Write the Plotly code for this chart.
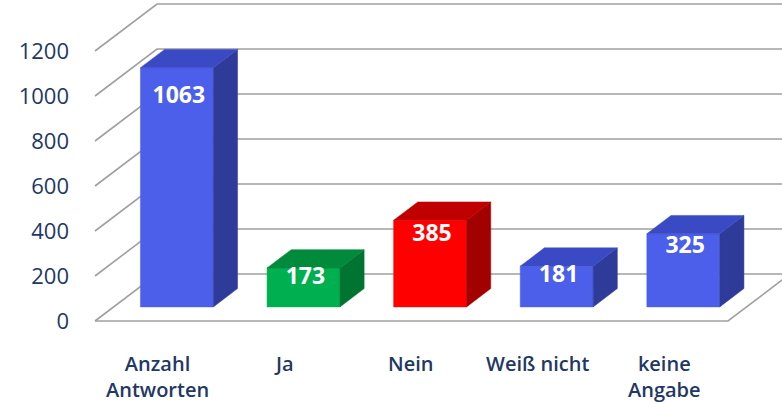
import plotly.graph_objects as go

# ---------------- data ----------------
categories = ["Anzahl\nAntworten", "Ja", "Nein", "Weiß nicht", "keine\nAngabe"]
values = [1063, 173, 385, 181, 325]
y_ticks = [0, 200, 400, 600, 800, 1000, 1200]

# ---------------- styles ----------------
front_colors = ["#4B5FEA", "#00B050", "#FF0000", "#4B5FEA", "#4B5FEA"]
top_colors = ["#3A4AC4", "#008A3C", "#C00000", "#3A4AC4", "#3A4AC4"]
side_colors = ["#2F3B98", "#007532", "#A30000", "#2F3B98", "#2F3B98"]
TEXT_COLOR = "#1F3864"
GRID_COLOR = "#A0A0A0"
FONT = "Open Sans"

# ---------------- layout geometry (pixels) ----------------
W, H = 782, 402
ML = 74                 # plot area left edge
PX_PER_CAT = 126.6      # pixels per category step
PX_PER_VAL = 45 / 200   # pixels per value unit
FLOOR_LEFT_PX = 95      # front-left corner of the floor
ZERO_PX = 321           # pixel row of value 0 at the front
DEPTH_PX = (62, 47)     # 3D depth offset (right, up)
BAR_HALF = 0.288        # half bar width in category units
BAR_D0, BAR_D1 = 0.30, 0.69  # bar depth span (0 = front, 1 = back)

DX = DEPTH_PX[0] / PX_PER_CAT
DY = DEPTH_PX[1] / PX_PER_VAL


def proj(c, d, v):
    """oblique projection of (category, depth, value) into axis units"""
    return c + d * DX, v + d * DY


n = len(values)
xmin = -0.5 - (FLOOR_LEFT_PX - ML) / PX_PER_CAT
xmax = xmin + (W - ML) / PX_PER_CAT
ymax = ZERO_PX / PX_PER_VAL
ymin = -(H - ZERO_PX) / PX_PER_VAL

fig = go.Figure()

# gridlines: left wall slant + back wall horizontal
gx, gy = [], []
for t in y_ticks:
    for p in (proj(-0.5, 0, t), proj(-0.5, 1, t), proj(n - 0.5, 1, t)):
        gx.append(p[0]); gy.append(p[1])
    gx.append(None); gy.append(None)
# floor front and right edges
for p in (proj(-0.5, 0, 0), proj(n - 0.5, 0, 0), proj(n - 0.5, 1, 0)):
    gx.append(p[0]); gy.append(p[1])
fig.add_trace(go.Scatter(x=gx, y=gy, mode="lines",
                         line=dict(color=GRID_COLOR, width=1.6),
                         hoverinfo="skip", showlegend=False))


def face(pts, color):
    xs = [p[0] for p in pts] + [pts[0][0]]
    ys = [p[1] for p in pts] + [pts[0][1]]
    fig.add_trace(go.Scatter(x=xs, y=ys, mode="lines", fill="toself",
                             fillcolor=color, line=dict(color=color, width=0.5),
                             hoverinfo="skip", showlegend=False))


lab_x, lab_y = [], []
for i, v in enumerate(values):
    c0, c1 = i - BAR_HALF, i + BAR_HALF
    front = [proj(c0, BAR_D0, 0), proj(c1, BAR_D0, 0), proj(c1, BAR_D0, v), proj(c0, BAR_D0, v)]
    side = [proj(c1, BAR_D0, 0), proj(c1, BAR_D1, 0), proj(c1, BAR_D1, v), proj(c1, BAR_D0, v)]
    top = [proj(c0, BAR_D0, v), proj(c1, BAR_D0, v), proj(c1, BAR_D1, v), proj(c0, BAR_D1, v)]
    face(front, front_colors[i])
    face(side, side_colors[i])
    face(top, top_colors[i])
    # label a little below the top edge of the front face
    off_px = 6 + 0.0225 * v
    px, py = proj(i, BAR_D0, v)
    lab_x.append(px + 0.015)
    lab_y.append(py - off_px / PX_PER_VAL)

fig.add_trace(go.Scatter(x=lab_x, y=lab_y, mode="text",
                         text=[str(v) for v in values],
                         textfont=dict(family=FONT, size=23, color="white", weight="bold"),
                         hoverinfo="skip", showlegend=False))

for i, cat in enumerate(categories):
    fig.add_annotation(x=i - 0.005, y=0, xref="x", yref="y", yshift=-27,
                       yanchor="top", xanchor="center", showarrow=False,
                       text=cat.replace("\n", "<br>"),
                       font=dict(family=FONT, size=20, color=TEXT_COLOR, weight=600))

fig.update_layout(
    width=W, height=H,
    margin=dict(l=ML, r=0, t=0, b=0),
    paper_bgcolor="white", plot_bgcolor="white",
    xaxis=dict(range=[xmin, xmax], visible=False, fixedrange=True),
    yaxis=dict(range=[ymin, ymax], tickvals=y_ticks, ticktext=[str(t) for t in y_ticks],
               showgrid=False, zeroline=False, showline=False, ticks="",
               ticklabelstandoff=4,
               tickfont=dict(family=FONT, size=22, color=TEXT_COLOR),
               automargin=False, fixedrange=True),
    showlegend=False,
)

fig.write_html("out.html", config={"displayModeBar": False},
               post_script="document.body.style.margin='0';document.body.style.overflow='hidden';")
